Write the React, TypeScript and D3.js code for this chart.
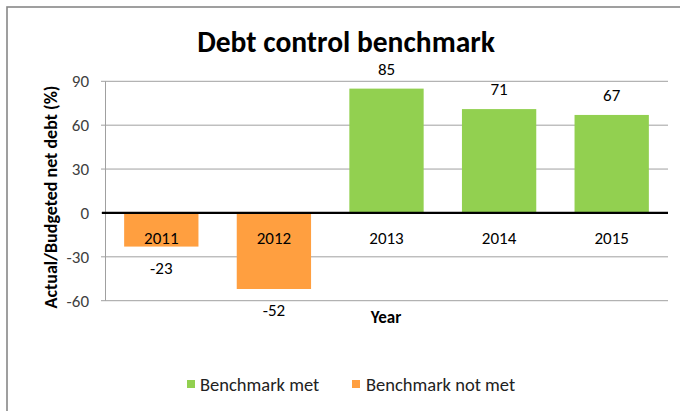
import React from "react";
import * as d3 from "d3";

const years = ["2011", "2012", "2013", "2014", "2015"];
const values = [-23, -52, 85, 71, 67];
const yTicks = [-60, -30, 0, 30, 60, 90];
const seriesNames = ["Benchmark met", "Benchmark not met"];
const seriesColors = ["#92D050", "#FF9F40"];

const W = 680;
const H = 411;
const FONT = "Carlito, Calibri, Lato, 'Open Sans', sans-serif";

export default function App() {
  const x = d3.scaleBand<string>().domain(years).range([105, 668]).paddingInner(0.34).paddingOuter(0.17);
  const y = d3.scaleLinear().domain([-60, 90]).range([300.7, 81.3]);
  const y0 = y(0);

  return (
    <svg width={W} height={H} style={{ position: "absolute", left: 0, top: 0 }} fontFamily={FONT}>
      <rect x={0} y={0} width={W} height={H} fill="#fff" />
      <rect x={7} y={7} width={W + 20} height={H + 20} fill="none" stroke="#888" strokeWidth={1.6} />
      <text x={346} y={52} textAnchor="middle" fontSize={29.5} fontWeight="bold" fill="#000">
        Debt control benchmark
      </text>
      {yTicks.map((t) => (
        <g key={t}>
          {t !== 0 && <line x1={105} x2={668} y1={y(t)} y2={y(t)} stroke="#A0A0A0" strokeWidth={1} />}
          <line x1={101} x2={105} y1={y(t)} y2={y(t)} stroke="#A0A0A0" strokeWidth={1} />
          <text x={89} y={y(t) + 6} textAnchor="end" fontSize={17} fill="#404040">
            {t}
          </text>
        </g>
      ))}
      <line x1={105.5} x2={105.5} y1={y(90)} y2={y(-60)} stroke="#A0A0A0" strokeWidth={1} />
      {years.map((yr, i) => {
        const v = values[i];
        const color = v >= 0 ? seriesColors[0] : seriesColors[1];
        const bx = x(yr)!;
        const bw = x.bandwidth();
        return (
          <g key={yr}>
            <rect x={bx} y={Math.min(y(v), y0)} width={bw} height={Math.abs(y(v) - y0)} fill={color} />
            <text x={bx + bw / 2} y={v >= 0 ? y(v) - 14 : y(v) + 27} textAnchor="middle" fontSize={17} fill="#000">
              {v}
            </text>
          </g>
        );
      })}
      <line x1={102} x2={668} y1={y0} y2={y0} stroke="#000" strokeWidth={2.2} />
      {years.map((yr) => (
        <text key={yr} x={x(yr)! + x.bandwidth() / 2} y={y0 + 31} textAnchor="middle" fontSize={17} fill="#000">
          {yr}
        </text>
      ))}
      <text x={386} y={323} textAnchor="middle" fontSize={17} fontWeight="bold" fill="#000">
        Year
      </text>
      <text
        transform={`translate(57,197) rotate(-90)`}
        textAnchor="middle"
        fontSize={18}
        fontWeight="bold"
        fill="#000"
      >
        Actual/Budgeted net debt (%)
      </text>
      <g>
        <rect x={187} y={380} width={8} height={8} fill={seriesColors[0]} />
        <text x={200} y={391} fontSize={18.5} fill="#222">
          {seriesNames[0]}
        </text>
        <rect x={352} y={380} width={8} height={8} fill={seriesColors[1]} />
        <text x={366} y={391} fontSize={18.5} fill="#222">
          {seriesNames[1]}
        </text>
      </g>
    </svg>
  );
}
